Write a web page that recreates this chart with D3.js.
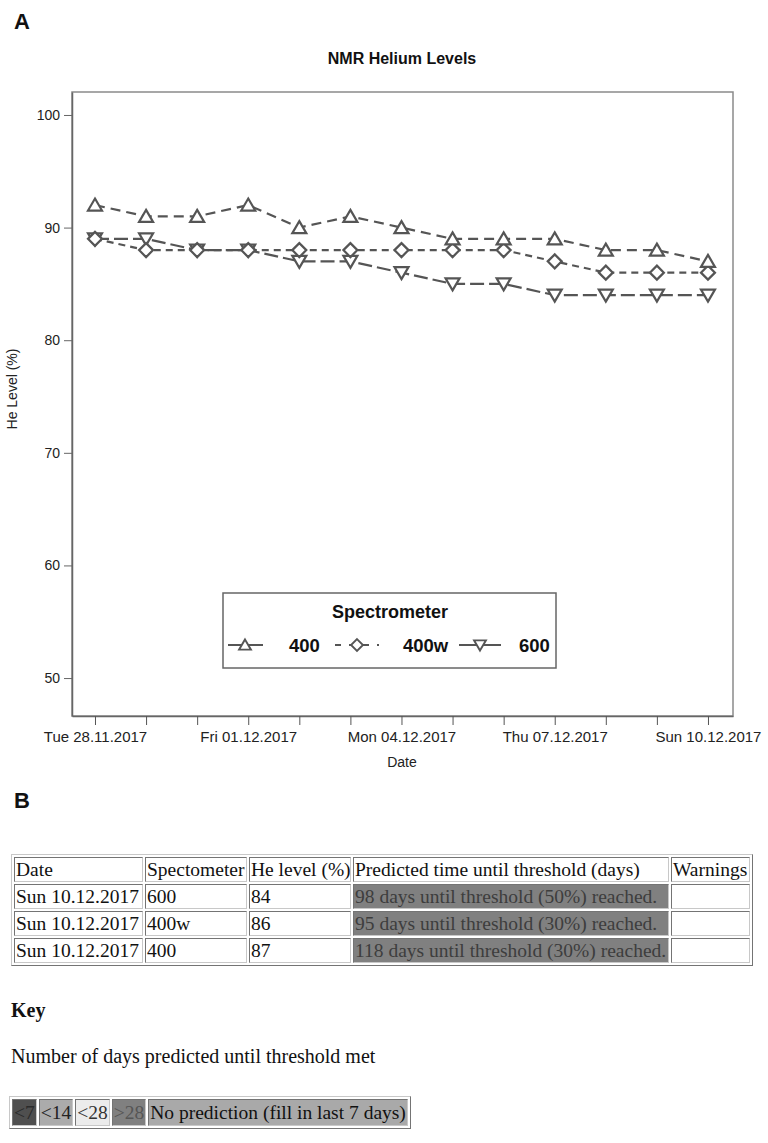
<!DOCTYPE html>
<html>
<head>
<meta charset="utf-8">
<script src="https://cdn.jsdelivr.net/npm/d3@7"></script>
<style>
  html, body { margin:0; padding:0; background:#fff; }
  body { width:768px; height:1143px; position:relative; overflow:hidden; }
  #chart { position:absolute; left:0; top:0; }
  .serif { font-family:"Liberation Serif","Times New Roman",serif; color:#111; }
  table.res { position:absolute; left:11px; top:854px; width:742px; border-collapse:separate; border-spacing:2px;
    border:1px outset #c8c8c8; table-layout:fixed; font-size:19.5px; }
  table.res td { border:1px inset #c8c8c8; padding:0 1px; line-height:23px; height:25px; box-sizing:border-box;
    white-space:nowrap; overflow:hidden; vertical-align:middle; }
  #keyTitle { position:absolute; left:11px; top:999px; font-weight:bold; font-size:20px; }
  #keyDesc { position:absolute; left:11px; top:1045px; font-size:20px; }
  table.key { position:absolute; left:9px; top:1096px; border-collapse:separate; border-spacing:2px;
    border:1px outset #c8c8c8; font-size:19.5px; }
  table.key td { border:1px inset #c8c8c8; padding:0 1px; line-height:23px; height:27px; box-sizing:border-box; white-space:nowrap; }
</style>
</head>
<body>
<svg id="chart" width="768" height="830"></svg>
<script>
// ---------------- data ----------------
const dates = ["2017-11-28","2017-11-29","2017-11-30","2017-12-01","2017-12-02","2017-12-03","2017-12-04",
               "2017-12-05","2017-12-06","2017-12-07","2017-12-08","2017-12-09","2017-12-10"];
const series400  = [92, 91, 91, 92, 90, 91, 90, 89, 89, 89, 88, 88, 87];
const series400w = [89, 88, 88, 88, 88, 88, 88, 88, 88, 87, 86, 86, 86];
const series600  = [89, 89, 88, 88, 87, 87, 86, 85, 85, 84, 84, 84, 84];
const seriesNames = ["400", "400w", "600"];
const yTicks = [50, 60, 70, 80, 90, 100];
const xTickLabelDates = ["2017-11-28","2017-12-01","2017-12-04","2017-12-07","2017-12-10"];

const tableHeader = ["Date", "Spectometer", "He level (%)", "Predicted time until threshold (days)", "Warnings"];
const tableDates = ["Sun 10.12.2017", "Sun 10.12.2017", "Sun 10.12.2017"];
const tableSpectrometers = ["600", "400w", "400"];
const tableLevels = [84, 86, 87];
const tableDays = [98, 95, 118];
const tableThresholds = [50, 30, 30];
const keyLabels = ["<7", "<14", "<28", ">28", "No prediction (fill in last 7 days)"];

// ---------------- chart ----------------
const parse = d3.timeParse("%Y-%m-%d");
const fmt = d3.timeFormat("%a %d.%m.%Y");
const svg = d3.select("#chart");
const L = 72, R = 733, T = 92, B = 716;
const day = 864e5;
const x = d3.scaleTime()
  .domain([new Date(+parse(dates[0]) - 0.45*day), new Date(+parse(dates[12]) + 0.49*day)])
  .range([L, R]);
const y = d3.scaleLinear().domain([46.63, 102.04]).range([B, T]);
const ink = "#555";
const SANS = "'Liberation Sans', Arial, sans-serif";

svg.append("text").attr("x", 14).attr("y", 29).attr("font-family", SANS).attr("font-weight", "bold")
  .attr("font-size", 22).attr("fill", "#111").text("A");
svg.append("text").attr("x", 402).attr("y", 64).attr("text-anchor", "middle").attr("font-family", SANS)
  .attr("font-weight", "bold").attr("font-size", 16).attr("fill", "#111").text("NMR Helium Levels");

// frame
svg.append("rect").attr("x", L).attr("y", T).attr("width", R - L).attr("height", B - T)
  .attr("fill", "none").attr("stroke", "#8a8a8a").attr("stroke-width", 1.5);

// y axis
const yAxis = svg.append("g").attr("transform", `translate(${L},0)`)
  .call(d3.axisLeft(y).tickValues(yTicks).tickSizeInner(8).tickSizeOuter(0).tickPadding(4));
yAxis.select(".domain").attr("stroke", "#666").attr("stroke-width", 1.5);
yAxis.selectAll(".tick line").attr("stroke", "#666");
yAxis.selectAll("text").attr("font-family", SANS).attr("font-size", 14).attr("fill", "#222");

// x axis
const xAxis = svg.append("g").attr("transform", `translate(0,${B})`)
  .call(d3.axisBottom(x).tickValues(dates.map(parse)).tickSizeInner(9).tickSizeOuter(0).tickPadding(6)
    .tickFormat(d => xTickLabelDates.includes(d3.timeFormat("%Y-%m-%d")(d)) ? fmt(d) : ""));
xAxis.select(".domain").attr("stroke", "#666").attr("stroke-width", 1.5);
xAxis.selectAll(".tick line").attr("stroke", "#555");
xAxis.selectAll("text").attr("font-family", SANS).attr("font-size", 15).attr("fill", "#222");

svg.append("text").attr("x", 402).attr("y", 767).attr("text-anchor", "middle").attr("font-family", SANS)
  .attr("font-size", 14).attr("fill", "#222").text("Date");
svg.append("text").attr("transform", "translate(17,389) rotate(-90)").attr("text-anchor", "middle")
  .attr("font-family", SANS).attr("font-size", 14).attr("fill", "#222").text("He Level (%)");

// series
const seriesData = [series400, series400w, series600];
const dashes = ["10,6", "7,5", "14,5"];
const shapes = {
  up:   "M0,-6.5L7,5.5L-7,5.5Z",
  diam: "M0,-7L7,0L0,7L-7,0Z",
  down: "M0,6.5L7,-5.5L-7,-5.5Z"
};
const shapeKeys = ["up", "diam", "down"];
const line = d3.line().x((d, i) => x(parse(dates[i]))).y(d => y(d));
[2, 1, 0].forEach(s => {
  svg.append("path").datum(seriesData[s]).attr("d", line).attr("fill", "none")
    .attr("stroke", ink).attr("stroke-width", 2.2).attr("stroke-dasharray", dashes[s]);
});
[2, 1, 0].forEach(s => {
  svg.append("g").selectAll("path").data(seriesData[s]).join("path")
    .attr("transform", (d, i) => `translate(${x(parse(dates[i]))},${y(d)})`)
    .attr("d", shapes[shapeKeys[s]]).attr("fill", "#fff").attr("stroke", ink).attr("stroke-width", 2.2);
});

// legend
const lg = svg.append("g");
lg.append("rect").attr("x", 223).attr("y", 593).attr("width", 333).attr("height", 75)
  .attr("fill", "#fff").attr("stroke", "#666").attr("stroke-width", 1.5);
lg.append("text").attr("x", 390).attr("y", 618).attr("text-anchor", "middle").attr("font-family", SANS)
  .attr("font-weight", "bold").attr("font-size", 18).attr("fill", "#111").text("Spectrometer");
const legItems = [
  {sym: 245, lx1: 228, lx2: 263, tx: 289},
  {sym: 357, lx1: 335, lx2: 379, tx: 403},
  {sym: 480, lx1: 459, lx2: 501, tx: 519}
];
legItems.forEach((it, s) => {
  const yy = 645;
  lg.append("line").attr("x1", it.lx1).attr("x2", it.lx2).attr("y1", yy).attr("y2", yy)
    .attr("stroke", ink).attr("stroke-width", 2.2).attr("stroke-dasharray", s === 1 ? "6,8" : null);
  lg.append("path").attr("transform", `translate(${it.sym},${yy}) scale(0.85)`).attr("d", shapes[shapeKeys[s]])
    .attr("fill", "#fff").attr("stroke", ink).attr("stroke-width", 2.2);
  lg.append("text").attr("x", it.tx).attr("y", yy + 7).attr("font-family", SANS).attr("font-weight", "bold")
    .attr("font-size", 18.5).attr("fill", "#111").text(seriesNames[s]);
});

svg.append("text").attr("x", 14).attr("y", 808).attr("font-family", SANS).attr("font-weight", "bold")
  .attr("font-size", 22).attr("fill", "#111").text("B");

// ---------------- table B ----------------
const body = d3.select("body");
const colW = [129, 102, 102, 316, 79];
const tbl = body.append("table").attr("class", "res serif");
const cg = tbl.append("colgroup");
colW.forEach(w => cg.append("col").style("width", w + "px"));
const hr = tbl.append("tr");
tableHeader.forEach((h, i) => hr.append("td").text(h));
tableDates.forEach((d, r) => {
  const tr = tbl.append("tr");
  tr.append("td").text(d);
  tr.append("td").text(tableSpectrometers[r]);
  tr.append("td").text(tableLevels[r]);
  tr.append("td").style("background", "#808080").style("color", "#3d3d3d")
    .text(`${tableDays[r]} days until threshold (${tableThresholds[r]}%) reached.`);
  tr.append("td").text("");
});

body.append("div").attr("id", "keyTitle").attr("class", "serif").text("Key");
body.append("div").attr("id", "keyDesc").attr("class", "serif").text("Number of days predicted until threshold met");
const keyBg = ["#4f4f4f", "#ababab", "#ececec", "#808080", "#a9a9a9"];
const keyFg = ["#2a2a2a", "#222", "#333", "#555", "#111"];
const kt = body.append("table").attr("class", "key serif").append("tr");
keyLabels.forEach((k, i) => kt.append("td").style("background", keyBg[i]).style("color", keyFg[i]).text(k));
</script>
</body>
</html>
